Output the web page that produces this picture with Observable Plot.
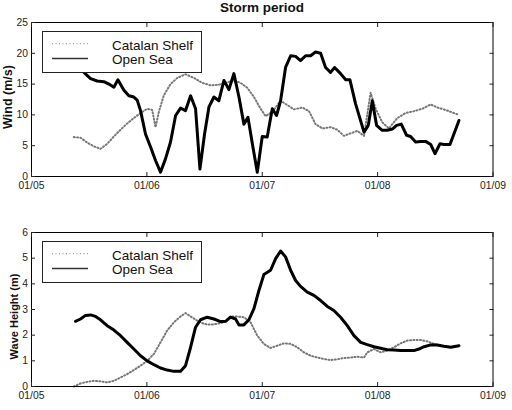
<!DOCTYPE html>
<html><head><meta charset="utf-8">
<script src="https://cdn.jsdelivr.net/npm/d3@7"></script>
<script src="https://cdn.jsdelivr.net/npm/@observablehq/plot@0.6"></script>
<style>
body{margin:0;background:#fff;font-family:"Liberation Sans",Arial,sans-serif;}
#root{position:relative;width:512px;height:410px;overflow:hidden;background:#fff;}
#root > svg{position:absolute;left:0;}
.title{position:absolute;left:0;top:1px;width:524px;text-align:center;font-weight:bold;font-size:13.5px;line-height:14px;color:#111;}
</style></head>
<body><div id="root"><div class="title">Storm period</div></div>
<script>
// x axis: days since 01/05 00:00
const xTickDays = [0, 1, 2, 3, 4];
const xTickLabels = ["01/05", "01/06", "01/07", "01/08", "01/09"];
const windTicks = [0, 5, 10, 15, 20, 25];
const waveTicks = [0, 1, 2, 3, 4, 5, 6];
const seriesNames = ["Catalan Shelf", "Open Sea"];

// Wind, Open Sea
const windOpenDays = [0.382,0.454,0.512,0.569,0.627,0.671,0.714,0.749,0.801,0.844,0.887,0.916,0.945,0.988,1.032,1.075,1.118,1.162,1.205,1.249,1.292,1.335,1.379,1.422,1.460,1.500,1.538,1.581,1.624,1.668,1.711,1.754,1.798,1.841,1.876,1.919,1.957,2.000,2.043,2.087,2.124,2.159,2.202,2.246,2.289,2.332,2.376,2.419,2.462,2.506,2.549,2.592,2.627,2.679,2.723,2.760,2.809,2.882,2.919,2.954,2.991,3.040,3.084,3.127,3.165,3.205,3.251,3.286,3.329,3.373,3.416,3.460,3.497,3.540,3.575,3.627,3.705];
const windOpen = [18.5,16.9,15.9,15.5,15.4,15.0,14.5,15.7,14.0,13.1,12.9,12.4,10.7,6.9,4.8,2.6,0.7,2.9,5.6,9.9,11.1,10.7,13.1,11.0,1.2,6.9,11.3,12.9,12.3,15.6,14.1,16.7,12.9,8.5,9.6,4.8,0.7,6.5,6.4,11.0,9.9,12.3,17.7,19.6,19.5,18.8,19.6,19.6,20.2,20.0,17.7,16.9,17.7,16.7,15.7,15.7,11.8,7.2,8.3,12.3,8.3,7.5,7.5,7.7,8.3,8.5,6.7,6.5,5.6,5.7,5.7,5.2,3.7,5.3,5.2,5.2,9.1];

// Wind, Catalan Shelf
const windShelfDays = [0.367,0.425,0.483,0.540,0.598,0.656,0.714,0.772,0.829,0.887,0.945,1.003,1.046,1.075,1.104,1.147,1.205,1.263,1.335,1.408,1.480,1.553,1.624,1.697,1.754,1.812,1.870,1.928,1.986,2.029,2.087,2.159,2.217,2.275,2.347,2.405,2.462,2.520,2.592,2.650,2.708,2.766,2.824,2.882,2.939,2.983,3.040,3.098,3.171,3.243,3.315,3.387,3.460,3.517,3.590,3.647,3.705];
const windShelf = [6.4,6.3,5.5,4.9,4.5,5.3,6.5,7.6,8.6,9.5,10.3,11.0,10.8,8.0,10.5,13.2,15.0,16.0,16.6,16.0,15.2,14.8,14.9,15.3,15.6,15.2,14.4,12.9,11.0,9.8,10.5,12.3,11.6,10.9,11.2,10.6,8.5,7.8,8.0,7.6,6.6,7.0,7.4,6.6,13.6,11.0,8.8,7.8,9.5,10.3,10.6,11.0,11.7,11.2,10.8,10.4,10.0];

// Wave height, Open Sea
const waveOpenDays = [0.382,0.425,0.468,0.512,0.555,0.598,0.656,0.714,0.772,0.829,0.887,0.945,1.003,1.061,1.118,1.176,1.234,1.292,1.335,1.379,1.422,1.465,1.523,1.581,1.639,1.682,1.725,1.769,1.798,1.841,1.884,1.928,1.971,2.014,2.072,2.116,2.159,2.202,2.246,2.289,2.332,2.390,2.448,2.506,2.564,2.621,2.679,2.737,2.795,2.853,2.910,2.968,3.026,3.084,3.142,3.199,3.257,3.315,3.358,3.402,3.460,3.517,3.575,3.633,3.705];
const waveOpen = [2.54,2.63,2.77,2.79,2.73,2.60,2.37,2.20,1.98,1.72,1.46,1.20,1.00,0.85,0.72,0.64,0.59,0.59,0.81,1.53,2.31,2.60,2.70,2.63,2.53,2.54,2.70,2.63,2.40,2.40,2.60,3.03,3.74,4.36,4.53,4.98,5.28,5.05,4.53,4.13,3.90,3.68,3.55,3.35,3.12,2.96,2.70,2.37,1.98,1.72,1.63,1.55,1.49,1.43,1.42,1.40,1.40,1.40,1.46,1.55,1.62,1.62,1.57,1.53,1.59];

// Wave height, Catalan Shelf
const waveShelfDays = [0.367,0.425,0.483,0.540,0.598,0.656,0.714,0.772,0.829,0.887,0.945,1.003,1.061,1.118,1.176,1.234,1.292,1.335,1.379,1.436,1.494,1.552,1.610,1.668,1.725,1.783,1.841,1.899,1.957,2.014,2.072,2.130,2.188,2.246,2.303,2.361,2.419,2.477,2.535,2.592,2.650,2.708,2.766,2.824,2.882,2.910,2.968,3.026,3.084,3.142,3.199,3.257,3.315,3.373,3.431,3.488,3.546,3.604,3.662];
const waveShelf = [0.0,0.12,0.18,0.22,0.20,0.16,0.22,0.35,0.48,0.64,0.81,1.00,1.27,1.72,2.18,2.50,2.73,2.86,2.73,2.57,2.44,2.41,2.44,2.50,2.73,2.73,2.70,2.50,1.98,1.66,1.50,1.59,1.68,1.66,1.53,1.33,1.20,1.13,1.07,1.03,1.06,1.11,1.13,1.16,1.13,1.33,1.46,1.33,1.40,1.53,1.68,1.79,1.81,1.81,1.76,1.66,1.59,1.55,1.55];

const toRows = (ts, vs) => ts.map((t, i) => ({t, v: vs[i]}));

function panel({yDomain, yTicks, shelf, open, height, marginTop, marginBottom, top, label, labelX, labelY, labelSize}) {
  const svg = Plot.plot({
    width: 512, height, marginTop, marginBottom, marginLeft: 31, marginRight: 19.5,
    style: {fontFamily: "'Liberation Sans', Arial, sans-serif", fontSize: "10.3px", color: "#222", background: "transparent", overflow: "visible"},
    x: {domain: [0, 4]},
    y: {domain: yDomain},
    marks: [
      Plot.line(shelf, {x: "t", y: "v", stroke: "#777", strokeWidth: 2, strokeDasharray: "1,2.3"}),
      Plot.line(open, {x: "t", y: "v", stroke: "#000", strokeWidth: 3, strokeLinejoin: "round"}),
      Plot.frame({stroke: "#000", strokeWidth: 1}),
      Plot.axisX({anchor: "bottom", ticks: xTickDays, tickFormat: d => xTickLabels[Math.round(d)], tickSize: -4, tickPadding: 9, label: null}),
      Plot.axisX({anchor: "top", ticks: xTickDays, tickFormat: () => "", tickSize: -4, label: null}),
      Plot.axisY({anchor: "left", ticks: yTicks, tickFormat: d => String(d), tickSize: -4, tickPadding: 7.5, label: null}),
      Plot.axisY({anchor: "right", ticks: yTicks, tickFormat: () => "", tickSize: -4, label: null})
    ]
  });
  svg.style.top = top + "px";
  d3.select(svg).append("text")
    .attr("transform", `translate(${labelX},${labelY}) rotate(-90)`)
    .attr("text-anchor", "middle")
    .attr("font-weight", "bold")
    .attr("font-size", labelSize)
    .attr("fill", "#111")
    .text(label);
  // legend
  const lg = d3.select(svg).append("g").attr("transform", `translate(42,${marginTop + 9})`);
  lg.append("rect").attr("x", 0.5).attr("y", 0.5).attr("width", 159).attr("height", 41).attr("fill", "#fff").attr("stroke", "#222").attr("stroke-width", 1);
  lg.append("line").attr("x1", 10).attr("x2", 46).attr("y1", 12.7).attr("y2", 12.7).attr("stroke", "#888").attr("stroke-width", 1).attr("stroke-dasharray", "1,2.5");
  lg.append("line").attr("x1", 10).attr("x2", 46).attr("y1", 27.5).attr("y2", 27.5).attr("stroke", "#333").attr("stroke-width", 1.5);
  lg.append("text").attr("x", 70).attr("y", 19).attr("text-anchor", "start").attr("font-size", 13.5).attr("fill", "#111").text(seriesNames[0]);
  lg.append("text").attr("x", 70).attr("y", 32.5).attr("text-anchor", "start").attr("font-size", 13.5).attr("fill", "#111").text(seriesNames[1]);
  return svg;
}

const root = document.getElementById("root");
root.appendChild(panel({
  yDomain: [0, 25], yTicks: windTicks,
  shelf: toRows(windShelfDays, windShelf), open: toRows(windOpenDays, windOpen),
  height: 205, marginTop: 22, marginBottom: 29, top: 0,
  label: "Wind (m/s)", labelX: 12, labelY: 97, labelSize: 12.5
}));
root.appendChild(panel({
  yDomain: [0, 6], yTicks: waveTicks,
  shelf: toRows(waveShelfDays, waveShelf), open: toRows(waveOpenDays, waveOpen),
  height: 205, marginTop: 27, marginBottom: 24, top: 205,
  label: "Wave Height (m)", labelX: 17.5, labelY: 111.5, labelSize: 11
}));
</script>
</body></html>
